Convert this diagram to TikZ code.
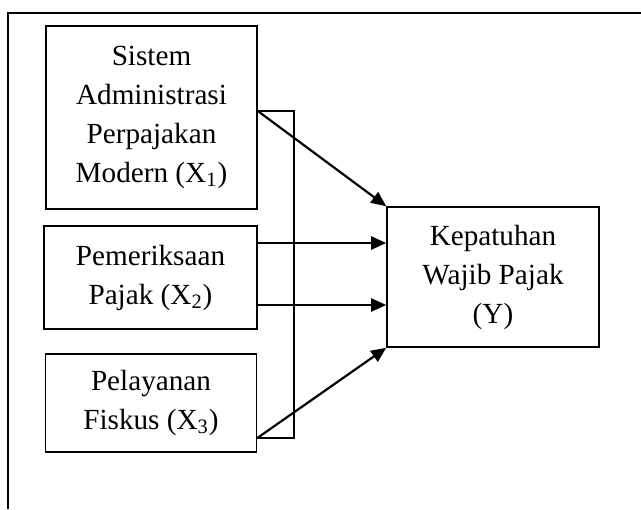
\documentclass[tikz,border=0pt]{standalone}
\usepackage{fontspec}
\setmainfont{Liberation Serif}
\usepackage{tikz}
\usetikzlibrary{arrows.meta,positioning}

\begin{document}
\begin{tikzpicture}[
  x=0.5pt,y=-0.5pt,
  font=\fontsize{14.6}{19.5}\selectfont,
  kotak/.style={draw,line width=0.8pt,align=center,inner sep=0pt},
  panah/.style={-{Triangle[length=7.5pt,width=6.5pt]},line width=1.1pt},
  garis/.style={line width=0.8pt}
]
  \useasboundingbox (0,0) rectangle (641,509);
  \draw[line width=1pt] (8,509) -- (8,13) -- (641,13);

  \node[kotak,minimum width=105.5pt,minimum height=91.5pt] (xone) at (151.5,117.5)
    {Sistem\\Administrasi\\Perpajakan\\Modern (X\textsubscript{1})};
  \node[kotak,minimum width=106.5pt,minimum height=51.5pt] (xtwo) at (150.5,277.5)
    {Pemeriksaan\\Pajak (X\textsubscript{2})};
  \node[kotak,minimum width=105.5pt,minimum height=49pt] (xthree) at (151,403)
    {Pelayanan\\Fiskus (X\textsubscript{3})};
  \node[kotak,minimum width=106pt,minimum height=70pt] (y) at (493,277)
    {Kepatuhan\\Wajib Pajak\\(Y)};

  \coordinate (atas) at (294,111);
  \coordinate (bawah) at (294,438);
  \coordinate (satu) at (0,243);
  \coordinate (dua) at (0,305);

  % kurung gabungan
  \draw[garis] (xone.east |- atas) -- (atas) -- (bawah) -- (xthree.east |- bawah);

  \draw[panah] (xone.east |- atas) -- (y.north west);
  \draw[panah] (xtwo.east |- satu) -- (y.west |- satu);
  \draw[panah] (xtwo.east |- dua) -- (y.west |- dua);
  \draw[panah] (xthree.east |- bawah) -- (y.south west);
\end{tikzpicture}
\end{document}
